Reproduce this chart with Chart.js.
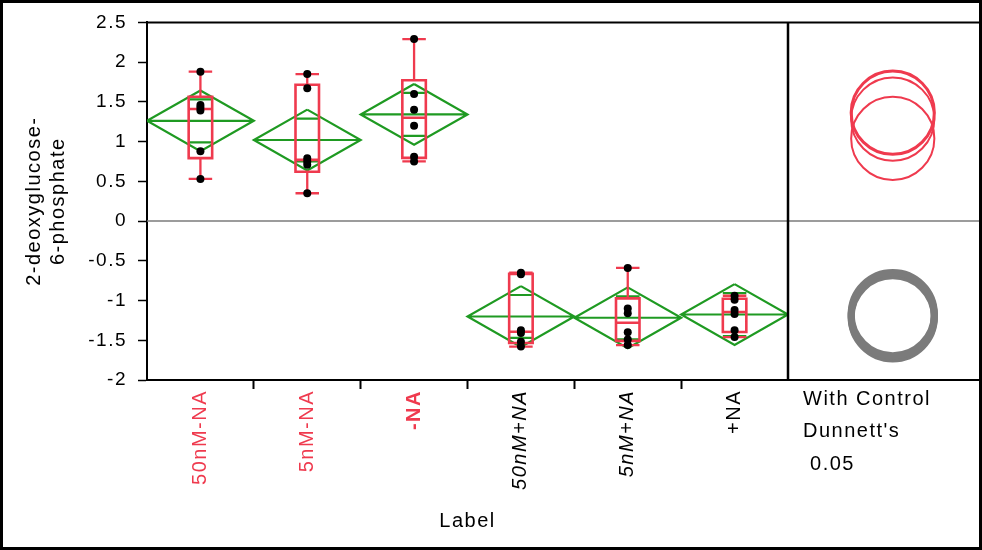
<!DOCTYPE html>
<html>
<head>
<meta charset="utf-8">
<script src="https://cdn.jsdelivr.net/npm/chart.js@4/dist/chart.umd.min.js"></script>
<style>
  html, body { margin: 0; padding: 0; background: #fff; }
  #wrap { position: relative; width: 982px; height: 550px; }
  canvas { display: block; }
  #panel { position: absolute; left: 788px; top: 0; }
</style>
</head>
<body>
<div id="wrap">
  <canvas id="chart" width="982" height="550"></canvas>
  <canvas id="panel" width="194" height="550"></canvas>
</div>
<script>
// Groups on the x axis
const CATEGORIES = ['50nM-NA', '5nM-NA', '-NA', '50nM+NA', '5nM+NA', '+NA'];

// Individual measurements per group
const VALUES_50NM_MINUS = [1.88, 1.46, 1.43, 1.39, 0.88, 0.53];
const VALUES_5NM_MINUS  = [1.85, 1.67, 0.79, 0.75, 0.71, 0.35];
const VALUES_MINUS      = [2.29, 1.60, 1.40, 1.20, 0.81, 0.75];
const VALUES_50NM_PLUS  = [-0.65, -0.67, -1.375, -1.41, -1.52, -1.58];
const VALUES_5NM_PLUS   = [-0.59, -1.10, -1.16, -1.40, -1.49, -1.56];
const VALUES_PLUS       = [-0.94, -0.99, -1.12, -1.17, -1.375, -1.46];
const GROUPS = [VALUES_50NM_MINUS, VALUES_5NM_MINUS, VALUES_MINUS,
                VALUES_50NM_PLUS, VALUES_5NM_PLUS, VALUES_PLUS];

// Dunnett's comparison with control (-NA): true = differs from control
const CONTROL_INDEX = 2;
const DIFFERS_FROM_CONTROL = [false, false, false, true, true, true];
const CIRCLE_RADIUS = 0.52;     // comparison circle radius, in y units
const T_CRIT = 2.042;           // t(0.975, df = 30) for the means diamonds

// Axis ticks and text
const Y_MIN = -2, Y_MAX = 2.5;
const Y_TICKS = [-2, -1.5, -1, -0.5, 0, 0.5, 1, 1.5, 2, 2.5];
const Y_TITLE = ['2-deoxyglucose-', '6-phosphate'];
const X_TITLE = 'Label';
const NOTE_LINES = ['With Control', "Dunnett's", ' 0.05'];

const RED = '#ef3a4e';
const GREEN = '#1f9a22';
const GRAY = '#7b7b7b';
const FONT = '"Liberation Sans", Arial, Helvetica, sans-serif';

Chart.defaults.font.family = FONT;
Chart.defaults.color = '#000';

// ---- summary statistics ----
function quantile(sorted, p) {
  const n = sorted.length;
  const pos = p * (n + 1);
  const lo = Math.floor(pos);
  const frac = pos - lo;
  if (lo < 1) return sorted[0];
  if (lo >= n) return sorted[n - 1];
  return sorted[lo - 1] + frac * (sorted[lo] - sorted[lo - 1]);
}
const stats = GROUPS.map(vals => {
  const s = [...vals].sort((a, b) => a - b);
  const mean = vals.reduce((a, b) => a + b, 0) / vals.length;
  return {
    n: vals.length, mean,
    min: s[0], max: s[s.length - 1],
    q1: quantile(s, 0.25), med: quantile(s, 0.5), q3: quantile(s, 0.75),
    ss: vals.reduce((a, v) => a + (v - mean) * (v - mean), 0)
  };
});
const totalN = stats.reduce((a, g) => a + g.n, 0);
const pooledSD = Math.sqrt(stats.reduce((a, g) => a + g.ss, 0) / (totalN - stats.length));
stats.forEach(g => { g.ci = T_CRIT * pooledSD / Math.sqrt(g.n); });

// ---- geometry in category units ----
const BOX_HALF = 0.11;
const CAP_HALF = 0.11;
const MARK_HALF = 0.11;
const PANEL_X = 0.54;   // circle centre across the comparison panel (0..1)

const gap = x => ({ x, y: null });
const boxData = [], whiskerData = [], diamondData = [], pointData = [];
stats.forEach((g, i) => {
  boxData.push({ x: i - BOX_HALF, y: g.q1 }, { x: i + BOX_HALF, y: g.q1 },
               { x: i + BOX_HALF, y: g.q3 }, { x: i - BOX_HALF, y: g.q3 },
               { x: i - BOX_HALF, y: g.q1 }, gap(i),
               { x: i - BOX_HALF, y: g.med }, { x: i + BOX_HALF, y: g.med }, gap(i));
  whiskerData.push({ x: i, y: g.q3 }, { x: i, y: g.max }, gap(i),
                   { x: i, y: g.q1 }, { x: i, y: g.min }, gap(i),
                   { x: i - CAP_HALF, y: g.max }, { x: i + CAP_HALF, y: g.max }, gap(i),
                   { x: i - CAP_HALF, y: g.min }, { x: i + CAP_HALF, y: g.min }, gap(i));
  const m = g.mean, c = g.ci, o = c / Math.SQRT2;
  diamondData.push({ x: i, y: m + c }, { x: i + 0.5, y: m }, { x: i, y: m - c },
                   { x: i - 0.5, y: m }, { x: i, y: m + c }, gap(i),
                   { x: i - 0.5, y: m }, { x: i + 0.5, y: m }, gap(i),
                   { x: i - MARK_HALF, y: m + o }, { x: i + MARK_HALF, y: m + o }, gap(i),
                   { x: i - MARK_HALF, y: m - o }, { x: i + MARK_HALF, y: m - o }, gap(i));
  GROUPS[i].forEach(v => pointData.push({ x: i, y: v }));
});
const circleData = stats.map(g => ({ x: PANEL_X, y: g.mean }));

const lineStyle = { type: 'line', xAxisID: 'x', yAxisID: 'y', pointRadius: 0,
                    fill: false, tension: 0, spanGaps: false };

// Frame, zero line, right panel notes
const framePlugin = {
  id: 'frame',
  beforeDraw(chart) {
    const ctx = chart.ctx;
    ctx.save();
    ctx.fillStyle = '#fff';
    ctx.fillRect(0, 0, chart.width, chart.height);
    ctx.restore();
    ctx.letterSpacing = '1.5px';
  },
  beforeDatasetsDraw(chart) {
    const { ctx, chartArea, scales: { y } } = chart;
    const y0 = y.getPixelForValue(0);
    ctx.save();
    ctx.strokeStyle = GRAY;
    ctx.lineWidth = 1.5;
    ctx.beginPath();
    ctx.moveTo(chartArea.left, y0);
    ctx.lineTo(chart.width, y0);
    ctx.stroke();
    ctx.restore();
  },
  afterDraw(chart) {
    const { ctx, chartArea: a } = chart;
    ctx.save();
    ctx.strokeStyle = '#000';
    ctx.lineWidth = 2;
    ctx.beginPath();
    ctx.moveTo(a.left - 1, a.top); ctx.lineTo(chart.width, a.top);
    ctx.moveTo(a.right, a.bottom); ctx.lineTo(chart.width, a.bottom);
    ctx.stroke();
    ctx.lineWidth = 2.5;
    ctx.beginPath();
    ctx.moveTo(a.right, a.top); ctx.lineTo(a.right, a.bottom);
    ctx.stroke();
    ctx.lineWidth = 3;
    ctx.strokeRect(1.5, 1.5, chart.width - 3, chart.height - 3);

    ctx.fillStyle = '#000';
    ctx.font = '20px ' + FONT;
    ctx.textAlign = 'left';
    ctx.textBaseline = 'alphabetic';
    ctx.letterSpacing = '1.5px';
    const baselines = [25, 57, 90];
    NOTE_LINES.forEach((t, k) => ctx.fillText(t, a.right + 15, a.bottom + baselines[k]));
    ctx.restore();
  }
};

// Main plot: points, box plots and means diamonds
new Chart(document.getElementById('chart'), {
  data: {
    datasets: [
      { type: 'scatter', xAxisID: 'x', yAxisID: 'y', data: pointData, order: 0,
        pointRadius: 4, pointBackgroundColor: '#000', pointBorderWidth: 0 },
      { ...lineStyle, data: boxData, order: 1, borderColor: RED, borderWidth: 2.6,
        borderCapStyle: 'square' },
      { ...lineStyle, data: whiskerData, order: 1, borderColor: RED, borderWidth: 2.3 },
      { ...lineStyle, data: diamondData, order: 2, borderColor: GREEN, borderWidth: 2.2 }
    ]
  },
  options: {
    responsive: false,
    animation: false,
    devicePixelRatio: 1,
    events: [],
    layout: { autoPadding: false, padding: { left: 0, right: 194, top: 20, bottom: 0 } },
    plugins: { legend: { display: false }, tooltip: { enabled: false } },
    scales: {
      x: { type: 'linear', display: false, min: -0.5, max: 5.5 },
      cat: {
        type: 'category', axis: 'x', position: 'bottom', labels: CATEGORIES, offset: true,
        afterFit: s => { s.height = 170; },
        border: { color: '#000', width: 2 },
        grid: {
          offset: true, drawOnChartArea: false, drawTicks: true, tickLength: 9, tickWidth: 2,
          tickColor: c => (c.index > 0 && c.index < CATEGORIES.length) ? '#000' : 'rgba(0,0,0,0)'
        },
        ticks: {
          autoSkip: false, minRotation: 90, maxRotation: 90, padding: 1,
          color: c => c.index <= CONTROL_INDEX ? RED : '#000',
          font: c => ({ family: FONT, size: 20,
                        weight: c.index === CONTROL_INDEX ? 'bold' : 'normal',
                        style: (c.index === 3 || c.index === 4) ? 'italic' : 'normal' })
        },
        title: { display: true, text: X_TITLE, color: '#000',
                 font: { size: 20, family: FONT }, padding: { top: 0, bottom: 17 } }
      },
      y: {
        type: 'linear', position: 'left', min: Y_MIN, max: Y_MAX,
        afterFit: s => { s.width = 147; },
        afterBuildTicks: s => { s.ticks = Y_TICKS.map(v => ({ value: v })); },
        border: { color: '#000', width: 2 },
        grid: { drawOnChartArea: false, drawTicks: true, tickLength: 9, tickWidth: 1.5,
                tickColor: '#000' },
        ticks: { color: '#000', font: { size: 19, family: FONT }, padding: 11,
                 callback: v => String(v) },
        title: { display: true, text: Y_TITLE, color: '#000',
                 font: { size: 20, family: FONT, lineHeight: 1.2 }, padding: { top: 22, bottom: 0 } }
      }
    }
  },
  plugins: [framePlugin]
});

// Comparison-circle panel, sharing the same y range and vertical extent
const panel = new Chart(document.getElementById('panel'), {
  type: 'scatter',
  data: {
    datasets: [{
      data: circleData,
      pointBackgroundColor: 'rgba(0,0,0,0)',
      pointBorderColor: stats.map((g, i) => DIFFERS_FROM_CONTROL[i] ? GRAY : RED),
      pointBorderWidth: stats.map((g, i) => DIFFERS_FROM_CONTROL[i] ? 7 : (i === CONTROL_INDEX ? 3 : 2)),
      pointRadius: 40
    }]
  },
  options: {
    responsive: false,
    animation: false,
    devicePixelRatio: 1,
    events: [],
    layout: { autoPadding: false, padding: { left: 0, right: 0, top: 20, bottom: 170 } },
    plugins: { legend: { display: false }, tooltip: { enabled: false } },
    scales: {
      x: { type: 'linear', display: false, min: 0, max: 1 },
      y: { type: 'linear', display: false, min: Y_MIN, max: Y_MAX }
    }
  }
});
// circle radius in pixels follows the panel's y scale
const py = panel.scales.y;
panel.data.datasets[0].pointRadius = Math.abs(py.getPixelForValue(0) - py.getPixelForValue(CIRCLE_RADIUS));
panel.update();
</script>
</body>
</html>
